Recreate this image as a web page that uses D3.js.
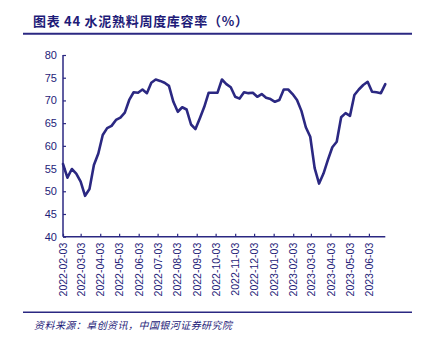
<!DOCTYPE html>
<html>
<head>
<meta charset="utf-8">
<script src="https://cdn.jsdelivr.net/npm/d3@7"></script>
<style>
  html, body { margin: 0; padding: 0; background: #fff; }
  svg { display: block; }
</style>
</head>
<body>
<svg id="chart" width="422" height="339"></svg>
<script>
const titleText = "图表 44 水泥熟料周度库容率（%）";
const sourceText = "资料来源：卓创资讯，中国银河证券研究院";
const startDate = "2022-02-03";
const values = [
  56.0, 53.0, 54.9, 53.9, 52.1, 49.0, 50.5, 55.8, 58.3, 62.4,
  63.9, 64.4, 65.7, 66.2, 67.3, 70.1, 71.8, 71.7, 72.4, 71.6,
  73.9, 74.6, 74.3, 73.9, 73.2, 69.7, 67.5, 68.5, 68.0, 64.7,
  63.7, 66.1, 68.6, 71.7, 71.7, 71.7, 74.6, 73.6, 72.9, 70.8,
  70.4, 71.8, 71.6, 71.7, 70.8, 71.4, 70.6, 70.3, 69.7, 70.1,
  72.4, 72.4, 71.4, 70.1, 67.7, 64.1, 62.0, 55.1, 51.7, 53.9,
  56.9, 59.7, 60.9, 66.3, 67.2, 66.6, 71.2, 72.4, 73.4, 74.1,
  71.9, 71.8, 71.6, 73.6
];
const yTicks = [40, 45, 50, 55, 60, 65, 70, 75, 80];
const xTickLabels = [
  "2022-02-03","2022-03-03","2022-04-03","2022-05-03","2022-06-03",
  "2022-07-03","2022-08-03","2022-09-03","2022-10-03","2022-11-03",
  "2022-12-03","2023-01-03","2023-02-03","2023-03-03","2023-04-03",
  "2023-05-03","2023-06-03"
];

const parse = d3.timeParse("%Y-%m-%d");
const t0 = parse(startDate);
const data = values.map((v, i) => ({ date: d3.timeDay.offset(t0, i * 7), value: v }));

const navy = "#2B2882";
const textCol = "#1E1B78";
const svg = d3.select("#chart");

const mLeft = 63, mRight = 385.3, mTop = 55, mBottom = 236.7;
const x = d3.scaleTime().domain(d3.extent(data, d => d.date)).range([mLeft, mRight]);
const y = d3.scaleLinear().domain([40, 80]).range([mBottom, mTop]);

// Title
svg.append("text")
  .attr("x", 33).attr("y", 25.5)
  .attr("font-family", "'Noto Sans CJK SC', sans-serif")
  .attr("font-size", 13).attr("font-weight", "bold")
  .attr("fill", textCol)
  .attr("textLength", 215).attr("lengthAdjust", "spacing")
  .text(titleText);
svg.append("line").attr("x1", 23).attr("x2", 412).attr("y1", 33.7).attr("y2", 33.7)
  .attr("stroke", navy).attr("stroke-width", 2);

// Footer
svg.append("line").attr("x1", 23).attr("x2", 412).attr("y1", 312.3).attr("y2", 312.3)
  .attr("stroke", navy).attr("stroke-width", 1.5);
svg.append("text")
  .attr("x", 34).attr("y", 329)
  .attr("font-family", "'Noto Sans CJK SC', sans-serif")
  .attr("font-size", 10).attr("font-style", "italic")
  .attr("fill", textCol)
  .attr("textLength", 198).attr("lengthAdjust", "spacing")
  .text(sourceText);

// Y axis
const yAxis = svg.append("g").attr("transform", `translate(${mLeft},0)`)
  .call(d3.axisRight(y).tickValues(yTicks).tickSize(3).tickFormat(d3.format("d")));
yAxis.select(".domain").attr("stroke", navy).attr("stroke-width", 1.5).attr("d", `M0,${mTop}V${mBottom}`);
yAxis.selectAll(".tick line").attr("stroke", navy).attr("stroke-width", 1.2);
yAxis.selectAll(".tick text")
  .attr("x", -6).attr("text-anchor", "end")
  .attr("font-family", "'Liberation Sans', Arial, sans-serif")
  .attr("font-size", 11).attr("fill", textCol);

// X axis
const xTicks = xTickLabels.map(parse);
const xAxis = svg.append("g").attr("transform", `translate(0,${mBottom})`)
  .call(d3.axisTop(x).tickValues(xTicks).tickSize(3).tickFormat(d3.timeFormat("%Y-%m-%d")));
xAxis.select(".domain").attr("stroke", navy).attr("stroke-width", 1.5).attr("d", `M${mLeft},0H${mRight}`);
xAxis.selectAll(".tick line").attr("stroke", navy).attr("stroke-width", 1.2);
xAxis.selectAll(".tick text")
  .attr("transform", "rotate(-90)")
  .attr("x", -6).attr("y", 0).attr("dy", "0.35em")
  .attr("text-anchor", "end")
  .attr("font-family", "'Liberation Sans', Arial, sans-serif")
  .attr("font-size", 10.5).attr("fill", textCol);

// Line
const line = d3.line().x(d => x(d.date)).y(d => y(d.value));
svg.append("path").datum(data)
  .attr("fill", "none").attr("stroke", navy).attr("stroke-width", 2.6)
  .attr("stroke-linejoin", "round").attr("stroke-linecap", "round")
  .attr("d", line);
</script>
</body>
</html>
